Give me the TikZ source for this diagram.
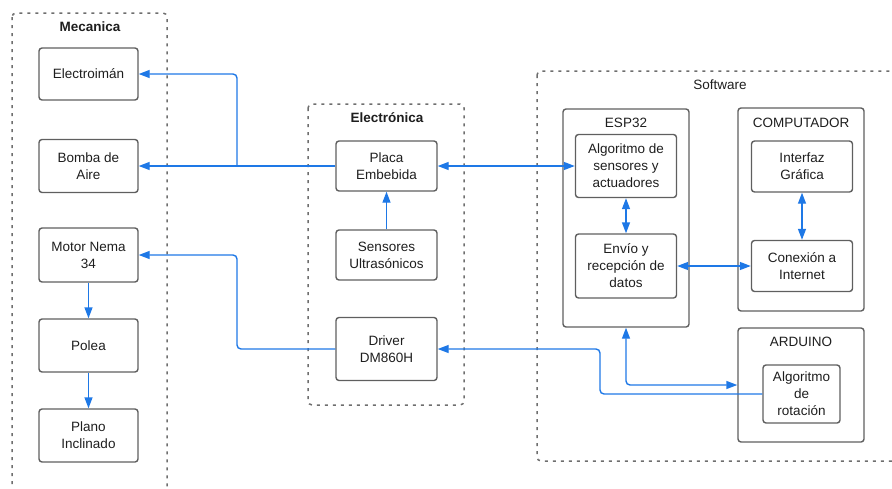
\documentclass[tikz,border=0pt]{standalone}
\usepackage{fontspec}
\setmainfont{Liberation Sans}
\usetikzlibrary{arrows.meta}
\definecolor{boxgray}{RGB}{95,95,95}
\definecolor{grpgray}{RGB}{110,110,110}
\definecolor{linkblue}{RGB}{30,120,230}
\definecolor{txtgray}{RGB}{30,30,30}
\tikzset{
  box/.style={draw=boxgray, line width=1.4pt, rounded corners=3pt, align=center,
    text=txtgray, font=\fontsize{13.5}{17}\selectfont, inner sep=2pt},
  holder/.style={draw=boxgray, line width=1.4pt, rounded corners=3pt},
  group/.style={draw=grpgray, line width=1.5pt, dash pattern=on 3pt off 5pt, rounded corners=4pt},
  title/.style={text=txtgray, font=\fontsize{13.5}{16}\selectfont},
  link/.style={draw=linkblue, line width=1.4pt, rounded corners=4pt},
  onetip/.style={-{Triangle[length=11pt,width=8pt]}},
  twotips/.style={{Triangle[length=11pt,width=8pt]}-{Triangle[length=11pt,width=8pt]}}
}

\begin{document}
\begin{tikzpicture}[x=1pt,y=-1pt]
		%%%%% START %%%%%
		\useasboundingbox (0,0) rectangle (892,488);
		
		% groups
		\draw[group] (12,13) rectangle (167,520);
		\draw[group] (308,104) rectangle (464,405);
		\draw[group] (537,71) rectangle (920,461);
		\node[title, font=\fontsize{13.5}{16}\selectfont\bfseries] (mectitle) at (90,27) {Mecanica};
		\node[title, font=\fontsize{13.5}{16}\selectfont\bfseries] (electitle) at (387,118) {Electrónica};
		\node[title] (softtitle) at (720,85) {Software};
		
		% mecanica
		\node[box, minimum width=99pt, minimum height=52pt] (electro) at (88.5,74) {Electroimán};
		\node[box, minimum width=99pt, minimum height=53pt] (bomba) at (88.5,166) {Bomba de\\Aire};
		\node[box, minimum width=99pt, minimum height=54pt] (motor) at (88.5,255) {Motor Nema\\34};
		\node[box, minimum width=99pt, minimum height=53pt] (polea) at (88.5,345.5) {Polea};
		\node[box, minimum width=99pt, minimum height=53pt] (plano) at (88.5,435.5) {Plano\\Inclinado};
		
		% electronica
		\node[box, minimum width=101pt, minimum height=50pt] (placa) at (386.5,166) {Placa\\Embebida};
		\node[box, minimum width=101pt, minimum height=50pt] (sensores) at (386.5,255) {Sensores\\Ultrasónicos};
		\node[box, minimum width=101pt, minimum height=63pt] (driver) at (386.5,349) {Driver\\DM860H};
		
		% software
		\node[holder, minimum width=126pt, minimum height=218pt] (esp) at (626,218) {};
		\node[holder, minimum width=126pt, minimum height=203pt] (comp) at (801,209.5) {};
		\node[holder, minimum width=126pt, minimum height=114pt] (arduino) at (801,385) {};
		\node[title] (esptitle) at (626,123) {ESP32};
		\node[title] (comptitle) at (801,123) {COMPUTADOR};
		\node[title] (ardtitle) at (801,342) {ARDUINO};
		
		\node[box, minimum width=101pt, minimum height=63pt] (algsens) at (626,166) {Algoritmo de\\sensores y\\actuadores};
		\node[box, minimum width=101pt, minimum height=64pt] (envio) at (626,266) {Envío y\\recepción de\\datos};
		\node[box, minimum width=101pt, minimum height=51pt] (interfaz) at (802,166.5) {Interfaz\\Gráfica};
		\node[box, minimum width=101pt, minimum height=51pt] (conexion) at (802,266) {Conexión a\\Internet};
		\node[box, minimum width=77pt, minimum height=58pt] (rotacion) at (801.5,394) {Algoritmo\\de\\rotación};
		
		% connectors
		\coordinate (splittop) at (237,166);
		\coordinate (motbend) at (237,255);
		\coordinate (drvbend) at (600,349);
		
		\draw[link, onetip] (placa.west) -- (bomba.east);
		\draw[link, onetip] (splittop) |- (electro.east);
		\draw[link, onetip] (driver.west) -| (motbend) -- (motor.east);
		\draw[link, onetip] (motor.south) -- (polea.north);
		\draw[link, onetip] (polea.south) -- (plano.north);
		\draw[link, onetip] (sensores.north) -- (placa.south);
		\draw[link, twotips] (placa.east) -- (algsens.west);
		\draw[link, twotips] (algsens.south) -- (envio.north);
		\draw[link, twotips] (envio.east) -- (conexion.west);
		\draw[link, twotips] (interfaz.south) -- (conexion.north);
		\draw[link, twotips] (esp.south) |- (arduino.west);
		\draw[link, onetip] (rotacion.west) -| (drvbend) -- (driver.east);
		
		%%%%% END %%%%%
	\end{tikzpicture}
\end{document}
